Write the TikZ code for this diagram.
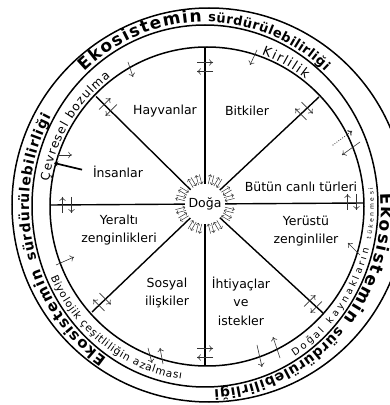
\documentclass[tikz,border=0pt]{standalone}
\usepackage{fontspec}
\setmainfont{DejaVu Sans}
\setsansfont{DejaVu Sans}
\usetikzlibrary{arrows.meta,decorations.text,calc}
\tikzset{
  ring/.style={line width=1.5pt},
  spoke/.style={line width=1.4pt},
  lbl/.style={font=\fontsize{12.5}{18.5}\selectfont, align=center, inner sep=1pt},
  sarr/.style={line width=0.6pt, draw=black!80, -{To[length=3.8pt,width=6.5pt]}},
  darr/.style={sarr, line width=1.1pt, line cap=round, dash pattern=on 0pt off 2.4pt},
  harr/.style={line width=0.5pt, draw=black!80, -{To[length=2.4pt,width=4.2pt]}},
  insline/.style={line width=1.7pt, shorten <=10pt, -{Stealth[length=4pt,width=5pt]}},
  pics/twoarr/.style={code={
     \draw[sarr] (-8,4.5) -- (8,4.5);
     \draw[sarr] (8,-4.5) -- (-8,-4.5);}},
  pics/hubarr/.style={code={
     \draw[harr] (-5,1.7) -- (5,1.7);
     \draw[harr] (5,-1.7) -- (-5,-1.7);}},
}
\newcommand\ArcTxt[7]{%
  \path[shift={#1}, decorate, decoration={text along path, text align=fit to path, text={|#6|#7}}]
    (#4:#2 and #3) arc[start angle=#4, end angle=#5, x radius=#2, y radius=#3];}

\begin{document}
\begin{tikzpicture}[x=1pt,y=1pt]
\useasboundingbox (0,0) rectangle (390,405);
\clip (0,0) rectangle (390,405);
\fill[white] (0,0) rectangle (390,405);

% rings
\draw[ring] (209,200) circle[radius=197];
\draw[ring] (205,199) ellipse[x radius=173, y radius=181];
\draw[ring] (207,198.5) ellipse[x radius=157, y radius=159.5];

% hub
\node[circle, minimum size=40pt, inner sep=0pt, font=\fontsize{12.5}{14}\selectfont] (hub) at (205,201) {Doğa};

% spoke ends
\coordinate (eN) at (205,358);
\coordinate (eS) at (205,39);
\coordinate (eW) at (50,200);
\coordinate (eE) at (364,202);
\coordinate (eNW) at (96,308.5);
\coordinate (eNE) at (319,308);
\coordinate (eSW) at (92,93);
\coordinate (eSE) at (323,92);
\foreach \e in {eN,eS,eW,eE,eNW,eNE,eSW,eSE} \draw[spoke] (hub) -- (\e);

% labels
\node[lbl] (hay) at (165,294) {Hayvanlar};
\node[lbl] (bit) at (247,294) {Bitkiler};
\node[lbl] (ins) at (118,233) {İnsanlar};
\node[lbl] (but) at (301,218) {Bütün canlı türleri};
\node[lbl] (yer) at (119,175) {Yeraltı\\zenginlikleri};
\node[lbl] (yus) at (306,174) {Yerüstü\\zenginliler};
\node[lbl] (sos) at (167,112) {Sosyal\\ilişkiler};
\node[lbl] (iht) at (241,104) {İhtiyaçlar\\ve\\istekler};

\coordinate (insEnd) at (54,242);
\draw[insline] (ins.west) -- (insEnd);

% arrows crossing the inner circle
\draw[sarr] (128,343) -- (133,328);
\draw[sarr] (257,355) -- (250,340);
\draw[darr] (333,260) -- (352,274);
\draw[sarr] (360,263) -- (342,250);
\draw[sarr] (360,150) -- (348,162);
\draw[sarr] (257,60) -- (262,38);
\draw[sarr] (280,47) -- (273,68);
\draw[sarr] (148,57) -- (152,42);
\draw[sarr] (163,41) -- (160,57);
\draw[sarr] (56,140) -- (74,148);
\draw[sarr] (57,250) -- (72,250);

% pairs across spokes
\pic[rotate=0] at (205,338) {twoarr};
\pic[rotate=45] at (108,298) {twoarr};
\pic[rotate=-45] at (304,294) {twoarr};
\pic[rotate=90] at (352,203) {twoarr};
\pic[rotate=45] at (313,101) {twoarr};
\pic[rotate=0] at (205,52) {twoarr};
\pic[rotate=-45] at (102,103) {twoarr};
\pic[rotate=90] at (67,200) {twoarr};

% hub arrows
\foreach \a in {14,31,59,76,104,121,149,166,194,211,239,256,284,301,329,346}
  \pic[rotate=\a] at ($(hub.center)+(\a:25)$) {hubarr};

% outer band texts
\ArcTxt{(205,199)}{176}{184}{133}{91}{\fontsize{17}{17}\selectfont\bfseries}{Ekosistemin}
\ArcTxt{(205,199)}{176}{184}{89}{47}{\fontsize{13}{13}\selectfont\bfseries}{sürdürülebilirliği}
\ArcTxt{(205,199)}{176}{184}{236}{200}{\fontsize{15}{15}\selectfont\bfseries}{Ekosistemin}
\ArcTxt{(205,199)}{176}{184}{197}{151}{\fontsize{14}{14}\selectfont\bfseries}{sürdürülebilirliği}
\ArcTxt{(205,199)}{176}{184}{4}{-38}{\fontsize{17}{17}\selectfont\bfseries}{Ekosistemin}
\ArcTxt{(205,199)}{176}{184}{-41}{-87}{\fontsize{14}{14}\selectfont\bfseries}{sürdürülebilirliği}

% inner band texts
\ArcTxt{(207,198.5)}{160}{162}{70}{52}{\fontsize{13}{13}\selectfont}{Kirlilik}
\ArcTxt{(207,198.5)}{160}{162}{171}{127}{\fontsize{12}{12}\selectfont}{Çevresel bozulma}
\ArcTxt{(205,199)}{169}{175}{204}{262}{\fontsize{10.5}{11}\selectfont}{Biyolojik çeşitliliğin azalması}
\ArcTxt{(205,199)}{169}{177}{-58}{-45}{\fontsize{10}{10}\selectfont}{Doğal}
\ArcTxt{(205,199)}{169}{177}{-42}{-14}{\fontsize{9.5}{10}\selectfont}{kaynakların}
\ArcTxt{(205,199)}{169}{177}{-11}{6}{\fontsize{6}{6}\selectfont}{tükenmesi}
\end{tikzpicture}
\end{document}
